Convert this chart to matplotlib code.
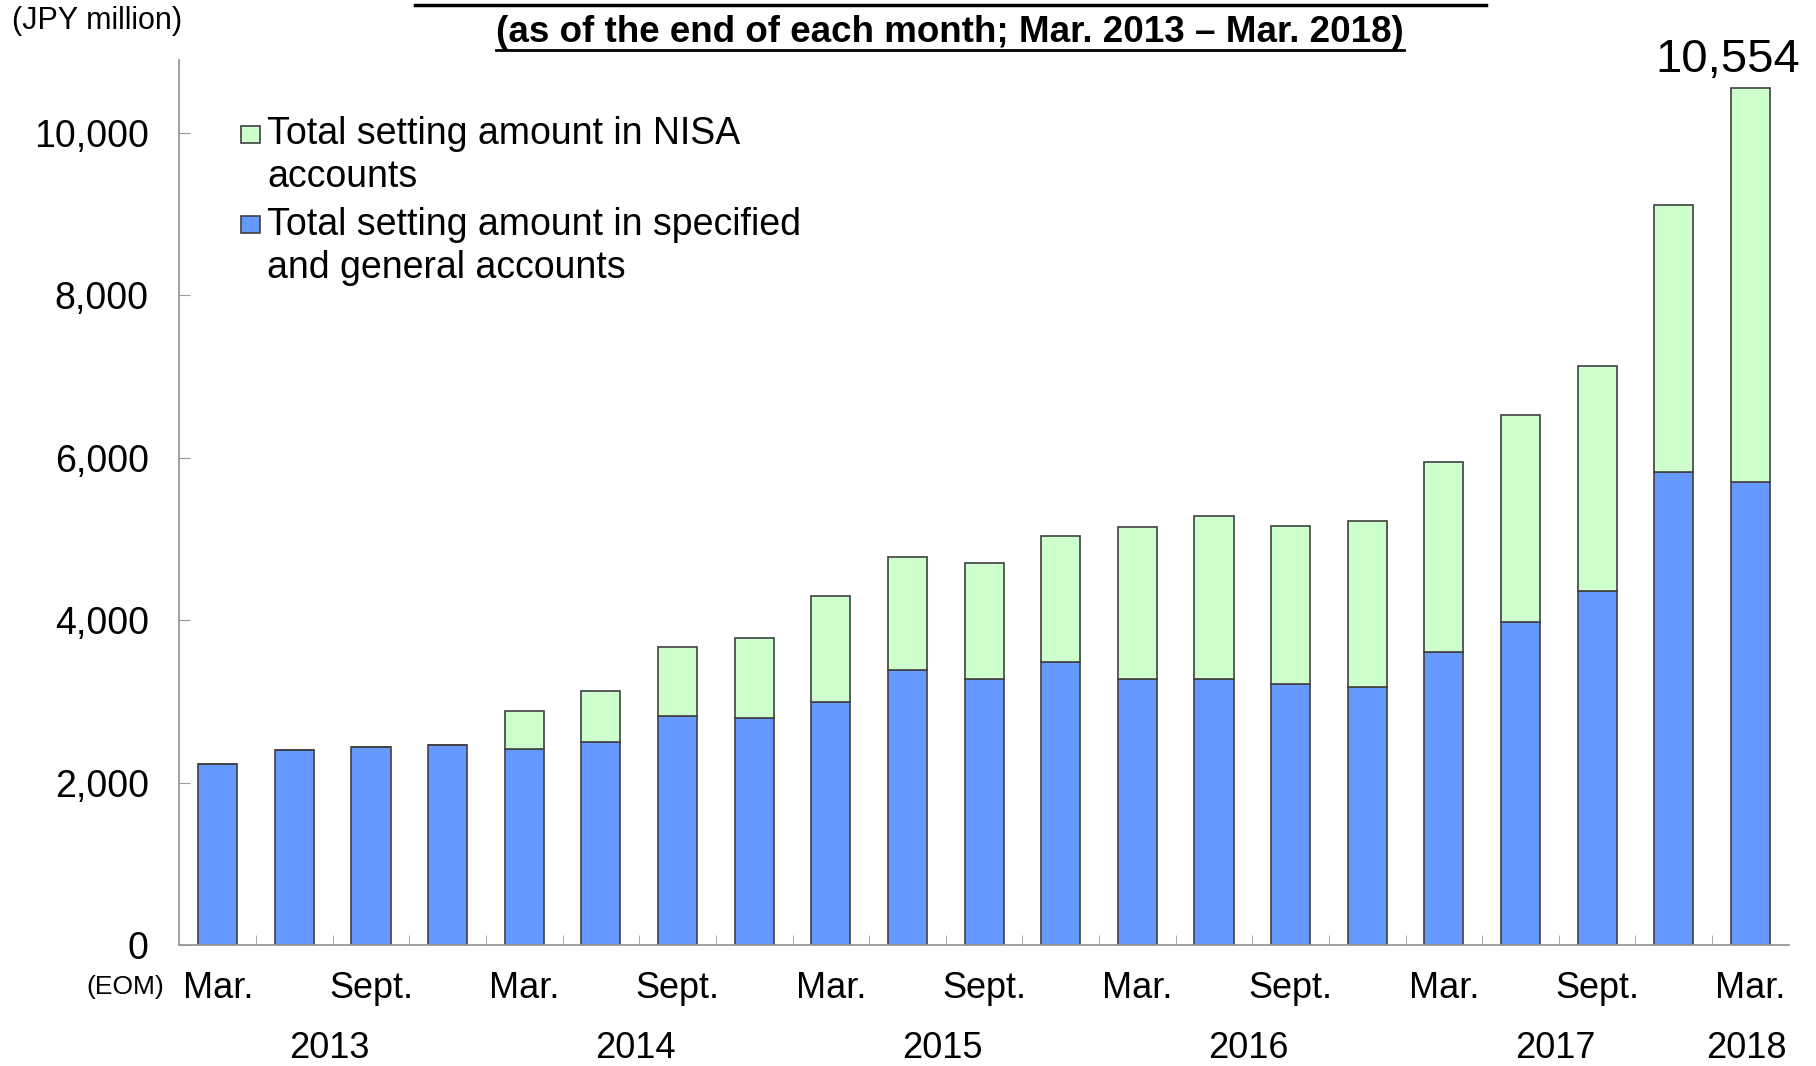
import numpy as np
import matplotlib
matplotlib.use("Agg")
import matplotlib.pyplot as plt
from matplotlib.lines import Line2D
from matplotlib.patches import Rectangle

plt.rcParams['font.family'] = ['Liberation Sans', 'DejaVu Sans']

# quarterly, end of month, Mar. 2013 - Mar. 2018 (JPY million)
specified_general = [2225, 2397, 2440, 2468, 2411, 2496, 2825, 2796, 2996, 3381, 3281,
                     3481, 3281, 3281, 3210, 3181, 3609, 3980, 4365, 5820, 5706]
nisa = [0, 0, 0, 0, 471, 628, 841, 984, 1298, 1398, 1427,
        1555, 1869, 1997, 1954, 2040, 2340, 2554, 2768, 3296, 4848]
month_labels = ['Mar.', '', 'Sept.', '', 'Mar.', '', 'Sept.', '', 'Mar.', '', 'Sept.',
                '', 'Mar.', '', 'Sept.', '', 'Mar.', '', 'Sept.', '', 'Mar.']
years = ['2013', '2014', '2015', '2016', '2017', '2018']
year_groups = [(0, 3), (4, 7), (8, 11), (12, 15), (16, 19), (20, 20)]
last_total_label = '10,554'

blue = '#6699FF'
green = '#CCFFCC'
edge = '#404040'
spine = '#999999'

x = np.arange(len(specified_general))
fig = plt.figure(figsize=(18.16, 10.66), dpi=100)
ax = fig.add_axes([0.0988, 0.1135, 0.8862, 0.8302])

ax.bar(x, specified_general, width=0.51, color=blue, edgecolor=edge, linewidth=1.2)
ax.bar(x, nisa, width=0.51, bottom=specified_general, color=green, edgecolor=edge, linewidth=1.2)

ax.set_xlim(-0.5, len(x) - 0.5)
ax.set_ylim(0, 10900)
ax.set_yticks(range(0, 10001, 2000))
ax.set_yticklabels(['0', '2,000', '4,000', '6,000', '8,000', '10,000'], fontsize=27)
ax.tick_params(axis='y', direction='in', length=8, color=spine, pad=22)

ax.set_xticks(x)
ax.set_xticklabels(month_labels, fontsize=26)
ax.tick_params(axis='x', which='major', length=0, pad=19)
ax.set_xticks(x[:-1] + 0.5, minor=True)
ax.tick_params(axis='x', which='minor', direction='in', length=7, color=spine)

for s in ['top', 'right']:
    ax.spines[s].set_visible(False)
for s in ['left', 'bottom']:
    ax.spines[s].set_color(spine)
    ax.spines[s].set_linewidth(1.3)

# year labels under month labels
trans = ax.get_xaxis_transform()
for yr, (a, b) in zip(years, year_groups):
    ax.text((a + b) / 2 - 0.05, -0.117, yr, transform=trans, ha='center', va='center', fontsize=26)

# total of last bar
last_total = specified_general[-1] + nisa[-1]
ax.text(x[-1] - 0.3, last_total + 80, last_total_label, ha='center', va='bottom', fontsize=34)

# legend drawn by hand to mimic the wrapped layout
leg = [(green, ['Total setting amount in NISA', 'accounts'], 0.916),
       (blue, ['Total setting amount in specified', 'and general accounts'], 0.814)]
for col, lines, y0 in leg:
    ax.add_patch(Rectangle((0.0385, y0 - 0.0095), 0.0118, 0.019, transform=ax.transAxes,
                           facecolor=col, edgecolor=edge, linewidth=1.2, clip_on=False))
    for i, ln in enumerate(lines):
        ax.text(0.0545, y0 - i * 0.0485, ln, transform=ax.transAxes, ha='left', va='center',
                fontsize=27)

fig.text(97 / 1816, 1 - 21 / 1066, '(JPY million)', ha='center', va='center', fontsize=22)
fig.text(125 / 1816, 1 - 987 / 1066, '(EOM)', ha='center', va='center', fontsize=19)

# title (first line is cut off in the source, only its underline shows)
title = fig.text(950 / 1816, 1 - 33 / 1066,
                 '(as of the end of each month; Mar. 2013 \u2013 Mar. 2018)',
                 ha='center', va='center', fontsize=26.5, fontweight='bold')
fig.canvas.draw()
bb = title.get_window_extent().transformed(fig.transFigure.inverted())
fig.add_artist(Line2D([bb.x0, bb.x1], [1 - 50 / 1066] * 2, transform=fig.transFigure,
                      color='black', linewidth=2))
fig.add_artist(Line2D([415 / 1816, 1486 / 1816], [1 - 5 / 1066] * 2, transform=fig.transFigure,
                      color='black', linewidth=2.5))

fig.savefig('out.png', dpi=100)
